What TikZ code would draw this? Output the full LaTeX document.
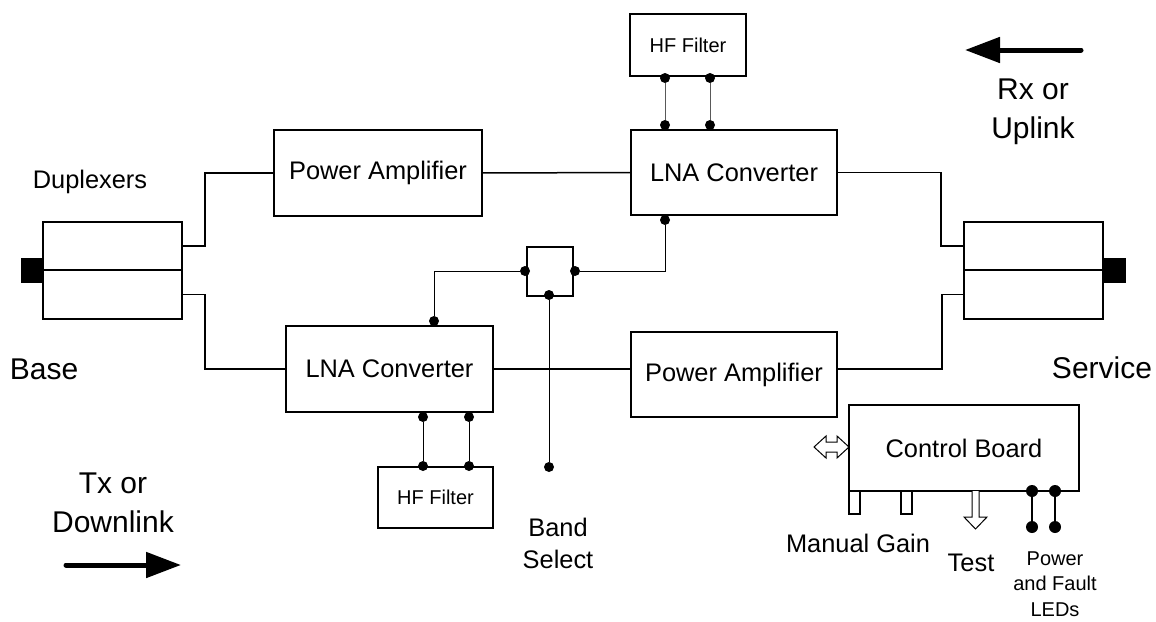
\documentclass[tikz,border=0pt]{standalone}
\usepackage{fontspec}
\setmainfont{Liberation Sans}
\usetikzlibrary{arrows.meta,calc}
\newcommand\FMain{\fontsize{25.4}{30}\selectfont}
\newcommand\FBig{\fontsize{30}{39}\selectfont}
\newcommand\FBand{\fontsize{25.4}{32}\selectfont}
\newcommand\FSmall{\fontsize{20}{26}\selectfont}
\newcommand\FLed{\fontsize{20}{25.5}\selectfont}
\tikzset{
  blk/.style={draw, line width=1.7pt, inner sep=0pt, outer sep=0pt, font=\FMain},
  plug/.style={fill=black, draw=none, inner sep=0pt, outer sep=0pt, minimum width=22pt, minimum height=25pt},
  wire/.style={line width=1.5pt},
  tiewire/.style={line width=1pt, black!65},
  ctlwire/.style={line width=1pt},
  ledwire/.style={line width=2pt},
  dotn/.style={circle, fill=black, inner sep=0pt, outer sep=0pt, minimum size=10pt},
  leddot/.style={circle, fill=black, inner sep=0pt, outer sep=0pt, minimum size=12pt},
  lbl/.style={align=center, inner sep=0pt},
  flow/.style={line width=5pt, line cap=round, -{Triangle[length=35pt,width=25pt]}},
  openarrow/.style={draw=black, fill=white, line width=1pt, line join=miter},
}
\begin{document}
\begin{tikzpicture}[x=1pt,y=-1pt]
\useasboundingbox (0,0) rectangle (1156,621);
\fill[white] (0,0) rectangle (1156,621);

% duplexers
\node[blk, minimum width=139pt, minimum height=48pt] (dLt) at (112.5,246) {};
\node[blk, minimum width=139pt, minimum height=49pt] (dLb) at (112.5,294.5) {};
\node[plug] (plugL) at (32,270.5) {};
\node[blk, minimum width=139pt, minimum height=48pt] (dRt) at (1033.5,246) {};
\node[blk, minimum width=139pt, minimum height=49pt] (dRb) at (1033.5,294.5) {};
\node[plug] (plugR) at (1114.5,270.5) {};

% main blocks
\node[blk, minimum width=208pt, minimum height=86pt] (paT) at (378,173) {Power Amplifier};
\node[blk, minimum width=206pt, minimum height=85pt] (lnaT) at (734,172.5) {LNA Converter};
\node[blk, minimum width=116pt, minimum height=62pt, font=\FSmall] (hfT) at (688,45) {HF Filter};
\node[blk, minimum width=207pt, minimum height=86pt] (lnaB) at (389.5,369) {LNA Converter};
\node[blk, minimum width=206pt, minimum height=85pt] (paB) at (734,374.5) {Power Amplifier};
\node[blk, minimum width=115pt, minimum height=61pt, font=\FSmall] (hfB) at (435.5,497.5) {HF Filter};
\node[blk, minimum width=46pt, minimum height=49pt] (bs) at (550,271.5) {};
\node[blk, minimum width=230pt, minimum height=86pt] (ctrl) at (964,448) {Control Board};

% signal wires
\draw[wire] (dLt.east) -- ++(23,0) |- (paT.west);
\draw[wire] (dLb.east) -- ++(23,0) |- (lnaB.west);
\draw[wire] (paT.east) -- (lnaT.west);
\draw[wire] (lnaT.east) -- ++(104,0) |- (dRt.west);
\draw[wire] (lnaB.east) -- (lnaB.east -| paB.west);
\draw[wire] (paB.east |- lnaB.east) -- ++(105,0) |- (dRb.west);

% filter ties (top)
\node[dotn] (hfT1) at (665,78) {};
\node[dotn] (hfT2) at (710,78) {};
\node[dotn] (lnaT1) at (665,125) {};
\node[dotn] (lnaT2) at (710,125) {};
\draw[tiewire] (hfT1) -- (lnaT1);
\draw[tiewire] (hfT2) -- (lnaT2);

% filter ties (bottom)
\node[dotn] (lnaB1) at (423,417) {};
\node[dotn] (lnaB2) at (469,417) {};
\node[dotn] (hfB1) at (423,466) {};
\node[dotn] (hfB2) at (469,466) {};
\draw[ctlwire] (lnaB1) -- (hfB1);
\draw[ctlwire] (lnaB2) -- (hfB2);

% band select
\node[dotn] (bsL) at (525,271) {};
\node[dotn] (bsR) at (575,271) {};
\node[dotn] (bsB) at (549,295) {};
\node[dotn] (lnaTc) at (665,220) {};
\node[dotn] (lnaBc) at (434,321) {};
\node[dotn] (bsEnd) at (549,467) {};
\draw[ctlwire] (bsR) -| (lnaTc);
\draw[ctlwire] (bsL) -| (lnaBc);
\draw[ctlwire] (bsB) -- (bsEnd);

% control board details
\draw[openarrow] (814,447) -- (826,436) -- (826,442) -- (837,442) -- (837,436) -- (849,447)
  -- (837,458) -- (837,452) -- (826,452) -- (826,458) -- cycle;
\draw[line width=1.2pt] (849,491) rectangle (860,514);
\draw[line width=1.2pt] (901,491) rectangle (912,514);
\draw[openarrow] (972,491) -- (972,517) -- (964,517) -- (975.5,529) -- (987,517) -- (979,517) -- (979,491);
\node[leddot] (led1a) at (1032,491) {};
\node[leddot] (led2a) at (1055,491) {};
\node[leddot] (led1b) at (1032,527) {};
\node[leddot] (led2b) at (1055,527) {};
\draw[ledwire] (led1a) -- (led1b);
\draw[ledwire] (led2a) -- (led2b);

% direction arrows
\coordinate (rxs) at (1081,50);
\coordinate (rxe) at (965,50);
\draw[flow] (rxs) -- (rxe);
\coordinate (txs) at (66,565);
\coordinate (txe) at (181,565);
\draw[flow] (txs) -- (txe);

% labels
\node[lbl, font=\FMain] (tDup) at (90,182) {Duplexers};
\node[lbl, font=\FBig] (tBase) at (44,369) {Base};
\node[lbl, font=\FBig] (tServ) at (1102,368) {Service};
\node[lbl, font=\FBig] (tRx) at (1033,112) {Rx or\\Uplink};
\node[lbl, font=\FBig] (tTx) at (113,503) {Tx or\\Downlink};
\node[lbl, font=\FBand] (tBand) at (558,543) {Band\\Select};
\node[lbl, font=\FMain] (tMG) at (858,543) {Manual Gain};
\node[lbl, font=\FMain] (tTest) at (971,563) {Test};
\node[lbl, font=\FLed] (tLed) at (1055,584) {Power\\and Fault\\LEDs};
\end{tikzpicture}
\end{document}
